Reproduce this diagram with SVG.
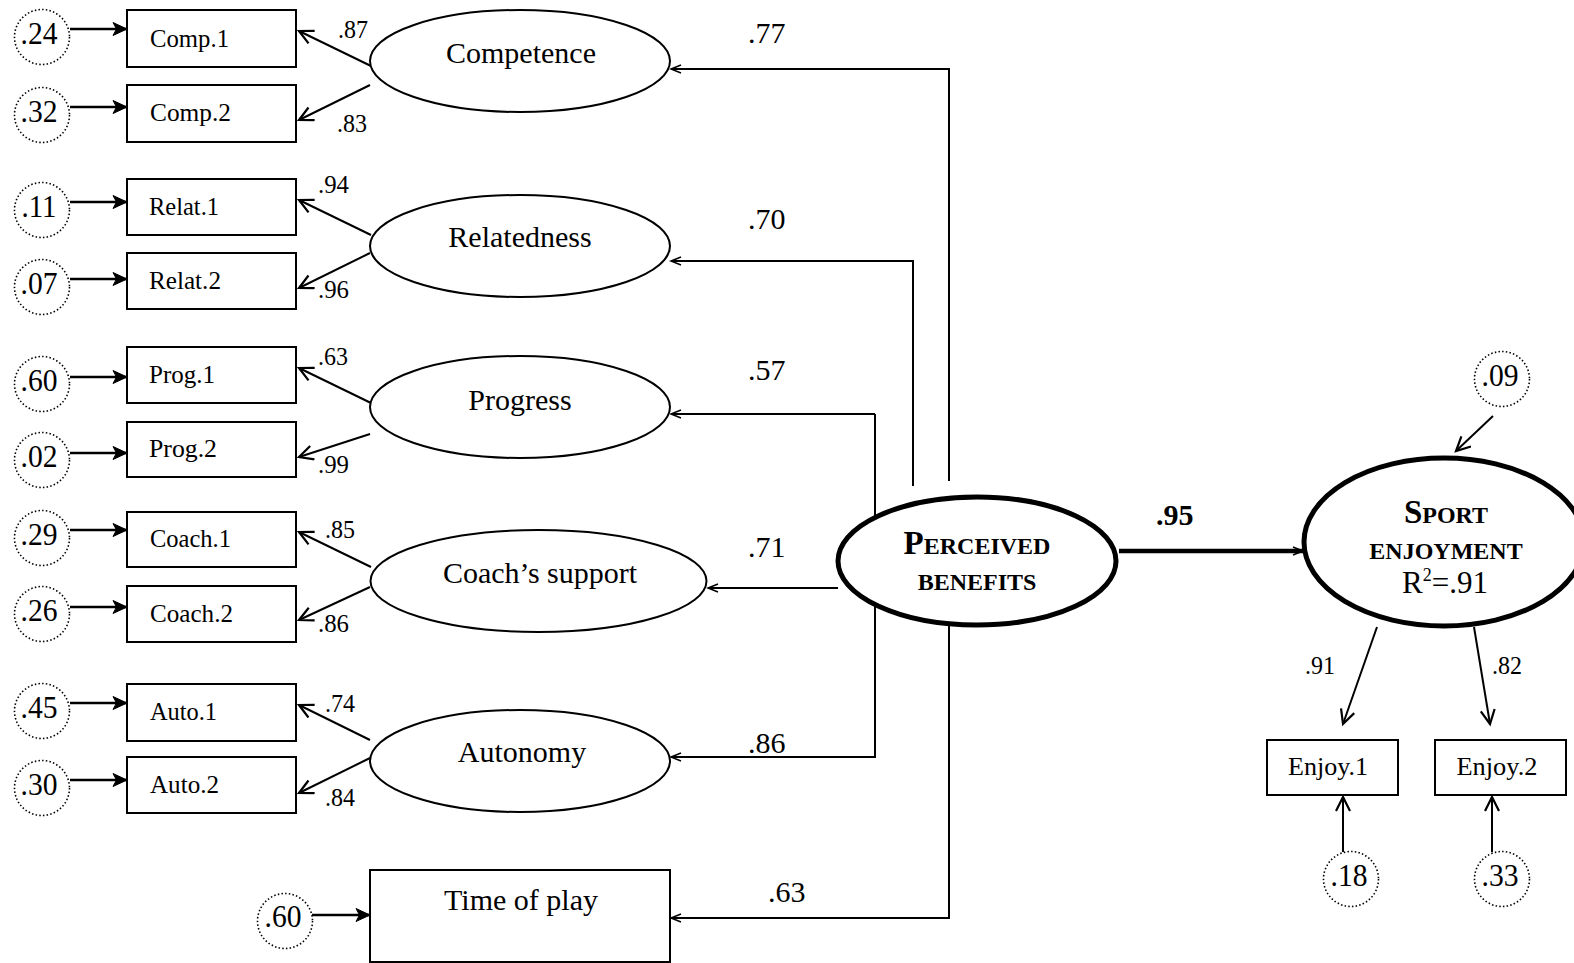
<svg xmlns="http://www.w3.org/2000/svg" width="1574" height="963" viewBox="0 0 1574 963">
<style>
text{font-family:"Liberation Serif","Times New Roman",serif;fill:#000}
.err{fill:#fff;stroke:#000;stroke-width:1.6;stroke-dasharray:1.5 2.2}
.box{fill:#fff;stroke:#000;stroke-width:2}
.lat{fill:#fff;stroke:#000;stroke-width:2}
.big{fill:#fff;stroke:#000;stroke-width:5}
.ln{fill:none;stroke:#000;stroke-width:2}
.ea{fill:none;stroke:#000;stroke-width:2.4}
.e{font-size:32px;text-anchor:middle}
.b{font-size:26px}
.l{font-size:26px}
.s{font-size:30px}
.n{font-size:30px;text-anchor:middle}
.bc{font-weight:bold;text-anchor:middle}
</style>
<defs>
<marker id="fh" markerUnits="userSpaceOnUse" markerWidth="18" markerHeight="16" refX="15" refY="7.5" orient="auto"><path d="M1,1 L15,7.5 L1,14 L4.5,7.5 z" fill="#000" stroke="#000" stroke-width="1" stroke-linejoin="round"/></marker>
<marker id="oh" markerUnits="userSpaceOnUse" markerWidth="18" markerHeight="18" refX="15" refY="8" orient="auto"><path d="M1,1 L15,8 L1,15" fill="none" stroke="#000" stroke-width="2.2"/></marker>
<marker id="sh" markerUnits="userSpaceOnUse" markerWidth="14" markerHeight="12" refX="11" refY="5" orient="auto"><path d="M1,1 L11,5 L1,9" fill="none" stroke="#000" stroke-width="1.5"/></marker>
</defs>
<rect width="1574" height="963" fill="#fff"/>
<g id="connectors">
<line class="ea" x1="70" y1="29" x2="127" y2="29" marker-end="url(#fh)"/>
<line class="ea" x1="70" y1="107" x2="127" y2="107" marker-end="url(#fh)"/>
<line class="ea" x1="70" y1="202" x2="127" y2="202" marker-end="url(#fh)"/>
<line class="ea" x1="70" y1="279" x2="127" y2="279" marker-end="url(#fh)"/>
<line class="ea" x1="70" y1="377" x2="127" y2="377" marker-end="url(#fh)"/>
<line class="ea" x1="70" y1="453" x2="127" y2="453" marker-end="url(#fh)"/>
<line class="ea" x1="70" y1="530" x2="127" y2="530" marker-end="url(#fh)"/>
<line class="ea" x1="70" y1="607" x2="127" y2="607" marker-end="url(#fh)"/>
<line class="ea" x1="70" y1="703" x2="127" y2="703" marker-end="url(#fh)"/>
<line class="ea" x1="70" y1="780" x2="127" y2="780" marker-end="url(#fh)"/>
<line class="ea" x1="312" y1="915" x2="370" y2="915" marker-end="url(#fh)"/>
<line class="ln" x1="371" y1="66" x2="299" y2="31" marker-end="url(#oh)"/>
<line class="ln" x1="370" y1="85" x2="299" y2="120" marker-end="url(#oh)"/>
<line class="ln" x1="371" y1="235" x2="299" y2="200" marker-end="url(#oh)"/>
<line class="ln" x1="370" y1="253" x2="299" y2="288" marker-end="url(#oh)"/>
<line class="ln" x1="371" y1="403" x2="299" y2="368" marker-end="url(#oh)"/>
<line class="ln" x1="370" y1="434" x2="299" y2="457" marker-end="url(#oh)"/>
<line class="ln" x1="371" y1="567" x2="299" y2="532" marker-end="url(#oh)"/>
<line class="ln" x1="370" y1="587" x2="299" y2="620" marker-end="url(#oh)"/>
<line class="ln" x1="370" y1="740" x2="299" y2="705" marker-end="url(#oh)"/>
<line class="ln" x1="370" y1="758" x2="299" y2="793" marker-end="url(#oh)"/>
<polyline class="ln" points="949,481 949,69 671,69" marker-end="url(#sh)"/>
<polyline class="ln" points="913,486 913,261 671,261" marker-end="url(#sh)"/>
<polyline class="ln" points="875,414 875,757 671,757" marker-end="url(#sh)"/>
<line class="ln" x1="875" y1="414" x2="671" y2="414" marker-end="url(#sh)"/>
<line class="ln" x1="838" y1="588" x2="708" y2="588" marker-end="url(#sh)"/>
<polyline class="ln" points="949,618 949,918 671,918" marker-end="url(#sh)"/>
<line x1="1119" y1="551" x2="1303" y2="551" stroke="#000" stroke-width="4.5" marker-end="url(#sh)"/>
<line class="ln" x1="1493" y1="416" x2="1456" y2="451" marker-end="url(#oh)"/>
<line class="ln" x1="1377" y1="627" x2="1343" y2="724" stroke-width="2.4" marker-end="url(#oh)"/>
<line class="ln" x1="1474" y1="627" x2="1490" y2="724" stroke-width="2.4" marker-end="url(#oh)"/>
<line class="ln" x1="1343" y1="852" x2="1343" y2="797" marker-end="url(#oh)"/>
<line class="ln" x1="1492" y1="852" x2="1492" y2="797" marker-end="url(#oh)"/>
</g>
<g id="labels">
<text class="l" x="338" y="38" textLength="30" lengthAdjust="spacingAndGlyphs">.87</text>
<text class="l" x="337" y="132" textLength="30" lengthAdjust="spacingAndGlyphs">.83</text>
<text class="l" x="318" y="193" textLength="31" lengthAdjust="spacingAndGlyphs">.94</text>
<text class="l" x="318" y="298" textLength="31" lengthAdjust="spacingAndGlyphs">.96</text>
<text class="l" x="318" y="365" textLength="30" lengthAdjust="spacingAndGlyphs">.63</text>
<text class="l" x="318" y="473" textLength="31" lengthAdjust="spacingAndGlyphs">.99</text>
<text class="l" x="325" y="538" textLength="30" lengthAdjust="spacingAndGlyphs">.85</text>
<text class="l" x="318" y="632" textLength="31" lengthAdjust="spacingAndGlyphs">.86</text>
<text class="l" x="325" y="712" textLength="30" lengthAdjust="spacingAndGlyphs">.74</text>
<text class="l" x="325" y="806" textLength="30" lengthAdjust="spacingAndGlyphs">.84</text>
<text class="s" x="748" y="43">.77</text>
<text class="s" x="748" y="229">.70</text>
<text class="s" x="748" y="380">.57</text>
<text class="s" x="748" y="557">.71</text>
<text class="s" x="748" y="753">.86</text>
<text class="s" x="768" y="902">.63</text>
<text class="s" x="1156" y="525" font-weight="bold">.95</text>
<text class="l" x="1320" y="674" text-anchor="middle" textLength="30" lengthAdjust="spacingAndGlyphs">.91</text>
<text class="l" x="1507" y="674" text-anchor="middle" textLength="30" lengthAdjust="spacingAndGlyphs">.82</text>
</g>
<g id="e_comp1"><circle class="err" cx="42" cy="37" r="27.5"/><text class="e" x="39" y="44" textLength="37" lengthAdjust="spacingAndGlyphs">.24</text></g>
<g id="e_comp2"><circle class="err" cx="42" cy="115" r="27.5"/><text class="e" x="39" y="122" textLength="37" lengthAdjust="spacingAndGlyphs">.32</text></g>
<g id="e_relat1"><circle class="err" cx="42" cy="210" r="27.5"/><text class="e" x="39" y="217" textLength="35" lengthAdjust="spacingAndGlyphs">.11</text></g>
<g id="e_relat2"><circle class="err" cx="42" cy="287" r="27.5"/><text class="e" x="39" y="294" textLength="37" lengthAdjust="spacingAndGlyphs">.07</text></g>
<g id="e_prog1"><circle class="err" cx="42" cy="384" r="27.5"/><text class="e" x="39" y="391" textLength="37" lengthAdjust="spacingAndGlyphs">.60</text></g>
<g id="e_prog2"><circle class="err" cx="42" cy="460" r="27.5"/><text class="e" x="39" y="467" textLength="37" lengthAdjust="spacingAndGlyphs">.02</text></g>
<g id="e_coach1"><circle class="err" cx="42" cy="538" r="27.5"/><text class="e" x="39" y="545" textLength="37" lengthAdjust="spacingAndGlyphs">.29</text></g>
<g id="e_coach2"><circle class="err" cx="42" cy="614" r="27.5"/><text class="e" x="39" y="621" textLength="37" lengthAdjust="spacingAndGlyphs">.26</text></g>
<g id="e_auto1"><circle class="err" cx="42" cy="711" r="27.5"/><text class="e" x="39" y="718" textLength="37" lengthAdjust="spacingAndGlyphs">.45</text></g>
<g id="e_auto2"><circle class="err" cx="42" cy="788" r="27.5"/><text class="e" x="39" y="795" textLength="37" lengthAdjust="spacingAndGlyphs">.30</text></g>
<g id="e_time"><circle class="err" cx="285" cy="921" r="27.5"/><text class="e" x="283" y="927" textLength="37" lengthAdjust="spacingAndGlyphs">.60</text></g>
<g id="comp1"><rect class="box" x="127" y="10" width="169" height="57"/><text class="b" x="150" y="47" textLength="79" lengthAdjust="spacingAndGlyphs">Comp.1</text></g>
<g id="comp2"><rect class="box" x="127" y="85" width="169" height="57"/><text class="b" x="150" y="121" textLength="81" lengthAdjust="spacingAndGlyphs">Comp.2</text></g>
<g id="relat1"><rect class="box" x="127" y="179" width="169" height="56"/><text class="b" x="149" y="215" textLength="70" lengthAdjust="spacingAndGlyphs">Relat.1</text></g>
<g id="relat2"><rect class="box" x="127" y="253" width="169" height="56"/><text class="b" x="149" y="289" textLength="72" lengthAdjust="spacingAndGlyphs">Relat.2</text></g>
<g id="prog1"><rect class="box" x="127" y="347" width="169" height="56"/><text class="b" x="149" y="383" textLength="66" lengthAdjust="spacingAndGlyphs">Prog.1</text></g>
<g id="prog2"><rect class="box" x="127" y="422" width="169" height="55"/><text class="b" x="149" y="457" textLength="68" lengthAdjust="spacingAndGlyphs">Prog.2</text></g>
<g id="coach1"><rect class="box" x="127" y="512" width="169" height="55"/><text class="b" x="150" y="547" textLength="81" lengthAdjust="spacingAndGlyphs">Coach.1</text></g>
<g id="coach2"><rect class="box" x="127" y="586" width="169" height="56"/><text class="b" x="150" y="622" textLength="83" lengthAdjust="spacingAndGlyphs">Coach.2</text></g>
<g id="auto1"><rect class="box" x="127" y="684" width="169" height="57"/><text class="b" x="150" y="720" textLength="67" lengthAdjust="spacingAndGlyphs">Auto.1</text></g>
<g id="auto2"><rect class="box" x="127" y="757" width="169" height="56"/><text class="b" x="150" y="793" textLength="69" lengthAdjust="spacingAndGlyphs">Auto.2</text></g>
<g id="competence"><ellipse class="lat" cx="520" cy="61" rx="150" ry="51"/><text class="n" x="521" y="63">Competence</text></g>
<g id="relatedness"><ellipse class="lat" cx="520" cy="246" rx="150" ry="51"/><text class="n" x="520" y="247">Relatedness</text></g>
<g id="progress"><ellipse class="lat" cx="520" cy="407" rx="150" ry="51"/><text class="n" x="520" y="410">Progress</text></g>
<g id="coach"><ellipse class="lat" cx="538.5" cy="581" rx="168" ry="51"/><text class="n" x="540" y="583">Coach’s support</text></g>
<g id="autonomy"><ellipse class="lat" cx="520" cy="761" rx="150" ry="51"/><text class="n" x="522" y="762">Autonomy</text></g>
<g id="time"><rect class="box" x="370" y="870" width="300" height="92"/><text class="n" x="521" y="910">Time of play</text></g>
<g id="perceived"><ellipse class="big" cx="977" cy="561" rx="139" ry="64"/>
<text class="bc" x="977" y="554"><tspan font-size="33">P</tspan><tspan font-size="24">ERCEIVED</tspan></text>
<text class="bc" x="977" y="590" font-size="24">BENEFITS</text></g>
<g id="enjoyment"><ellipse class="big" cx="1444" cy="542" rx="140" ry="84"/>
<text class="bc" x="1446" y="523"><tspan font-size="33">S</tspan><tspan font-size="24">PORT</tspan></text>
<text class="bc" x="1446" y="559" font-size="24">ENJOYMENT</text>
<text x="1445" y="593" font-size="31" text-anchor="middle">R<tspan font-size="18" dy="-12">2</tspan><tspan dy="12">=.91</tspan></text></g>
<g id="e_enjoyment"><circle class="err" cx="1502" cy="379" r="27.5"/><text class="e" x="1500" y="386" textLength="37" lengthAdjust="spacingAndGlyphs">.09</text></g>
<g id="enjoy1"><rect class="box" x="1267" y="740" width="131" height="55"/><text class="b" x="1328" y="775" text-anchor="middle" textLength="80" lengthAdjust="spacingAndGlyphs">Enjoy.1</text></g>
<g id="enjoy2"><rect class="box" x="1435" y="740" width="131" height="55"/><text class="b" x="1497" y="775" text-anchor="middle" textLength="81" lengthAdjust="spacingAndGlyphs">Enjoy.2</text></g>
<g id="e_enjoy1"><circle class="err" cx="1351" cy="879" r="27.5"/><text class="e" x="1349" y="886" textLength="37" lengthAdjust="spacingAndGlyphs">.18</text></g>
<g id="e_enjoy2"><circle class="err" cx="1502" cy="879" r="27.5"/><text class="e" x="1500" y="886" textLength="37" lengthAdjust="spacingAndGlyphs">.33</text></g>
</svg>
